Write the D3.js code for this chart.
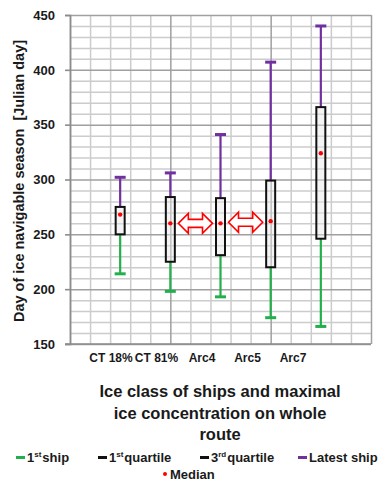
<!DOCTYPE html>
<html><head><meta charset="utf-8">
<script src="https://cdn.jsdelivr.net/npm/d3@7/dist/d3.min.js"></script>
<style>
html,body{margin:0;padding:0;background:#fff;}
svg{display:block;font-family:"Liberation Sans",Arial,sans-serif;}
</style></head>
<body>
<svg id="c" width="382" height="484"></svg>
<script>
const categories = ["CT 18%", "CT 81%", "Arc4", "Arc5", "Arc7"];
const firstShip  = [214, 198, 193, 174, 166];
const quartile1  = [250, 225, 231, 220, 246];
const median     = [268, 260, 260, 262, 324];
const quartile3  = [275, 284, 283, 299, 366];
const latestShip = [302, 306, 341, 407, 440];
const yTicks = [150, 200, 250, 300, 350, 400, 450];
const arrowPairs = [[1, 2], [2, 3]];
const legendItems = [
  {label: "1", sup: "st", rest: "ship", color: "#22b04c", type: "line"},
  {label: "1", sup: "st", rest: "quartile", color: "#111", type: "line"},
  {label: "3", sup: "rd", rest: "quartile", color: "#111", type: "line"},
  {label: "Latest ship", sup: "", rest: "", color: "#7030a0", type: "line"},
  {label: "Median", sup: "", rest: "", color: "#ff0000", type: "dot"}
];

const svg = d3.select("#c");
const x = d3.scaleLinear().domain([0, 6]).range([70, 371]);
const y = d3.scaleLinear().domain([150, 450]).range([344, 15]);
const xLab = d3.scalePoint().domain(categories).range([111, 293]);

const GREEN = "#22b04c", PURPLE = "#7030a0", RED = "#ff0000";
const W = x(6) - x(0), H = y(150) - y(450);

// horizontal gridlines via axis generator
const hMinor = d3.range(150, 451, 10).filter(v => v % 50 !== 0);
const vAll = d3.range(0, 16).map(i => +(i * 0.4).toFixed(1));
const vMinor = vAll.filter((v, i) => i % 5 !== 0);
const vMajor = vAll.filter((v, i) => i % 5 === 0);

function grid(axis, cls, color, width) {
  const gg = svg.append("g").attr("class", cls).call(axis);
  gg.select(".domain").remove();
  gg.selectAll(".tick line").attr("stroke", color).attr("stroke-width", width);
  gg.selectAll(".tick text").remove();
  return gg;
}
grid(d3.axisLeft(y).tickValues(hMinor).tickSize(-W).tickFormat(""), "hminor", "#cccccc", 1.5)
  .attr("transform", `translate(${x(0)},0)`);
grid(d3.axisBottom(x).tickValues(vMinor).tickSize(-H).tickFormat(""), "vminor", "#cccccc", 1.5)
  .attr("transform", `translate(0,${y(150)})`);
grid(d3.axisLeft(y).tickValues(yTicks).tickSize(-W).tickFormat(""), "hmajor", "#a0a0a0", 1.5)
  .attr("transform", `translate(${x(0)},0)`);
grid(d3.axisBottom(x).tickValues(vMajor).tickSize(-H).tickFormat(""), "vmajor", "#a0a0a0", 1.5)
  .attr("transform", `translate(0,${y(150)})`);

// axis
const yAxis = d3.axisLeft(y).tickValues(yTicks).tickSize(5).tickPadding(10);
const ya = svg.append("g").attr("transform", `translate(${x(0)},0)`).call(yAxis);
ya.select(".domain").attr("stroke", "#8c8c8c").attr("stroke-width", 1.6);
ya.selectAll(".tick line").attr("stroke", "#8c8c8c").attr("stroke-width", 1.6);
ya.selectAll("text").attr("font-size", 13).attr("font-weight", "bold").attr("fill", "#1a1a1a")
  .attr("font-family", "Liberation Sans, Arial, sans-serif");
svg.append("line").attr("x1", x(0) - 5).attr("x2", x(6)).attr("y1", y(150)).attr("y2", y(150))
  .attr("stroke", "#8c8c8c").attr("stroke-width", 1.6);

// boxes
const capW = 11;
categories.forEach((c, i) => {
  const cx = x(i + 1);
  svg.append("line").attr("x1", cx).attr("x2", cx).attr("y1", y(quartile3[i])).attr("y2", y(latestShip[i]))
    .attr("stroke", PURPLE).attr("stroke-width", 2.2);
  svg.append("line").attr("x1", cx - capW / 2).attr("x2", cx + capW / 2).attr("y1", y(latestShip[i])).attr("y2", y(latestShip[i]))
    .attr("stroke", PURPLE).attr("stroke-width", 3);
  svg.append("line").attr("x1", cx).attr("x2", cx).attr("y1", y(quartile1[i])).attr("y2", y(firstShip[i]))
    .attr("stroke", GREEN).attr("stroke-width", 2.2);
  svg.append("line").attr("x1", cx - capW / 2).attr("x2", cx + capW / 2).attr("y1", y(firstShip[i])).attr("y2", y(firstShip[i]))
    .attr("stroke", GREEN).attr("stroke-width", 3);
  svg.append("rect").attr("x", cx - 4.5).attr("width", 9)
    .attr("y", y(quartile3[i])).attr("height", y(quartile1[i]) - y(quartile3[i]))
    .attr("fill", "rgba(230,230,230,0.45)").attr("stroke", "#111").attr("stroke-width", 2);
  svg.append("circle").attr("cx", cx).attr("cy", y(median[i])).attr("r", 2.2).attr("fill", RED);
});

// double arrows
arrowPairs.forEach(([a, b]) => {
  const x0 = x(a + 1) + 8, x1 = x(b + 1) - 8;
  const cy = y(d3.mean([median[a], median[b]]));
  const hh = 10, sh = 4, hl = 10;
  const p = [[x0, cy], [x0 + hl, cy - hh], [x0 + hl, cy - sh], [x1 - hl, cy - sh], [x1 - hl, cy - hh],
             [x1, cy], [x1 - hl, cy + hh], [x1 - hl, cy + sh], [x0 + hl, cy + sh], [x0 + hl, cy + hh]];
  svg.append("path").attr("d", d3.line()(p) + "Z").attr("fill", "#fff").attr("stroke", RED).attr("stroke-width", 1.6)
    .attr("stroke-linejoin", "miter");
});

// category labels
categories.forEach(c => {
  svg.append("text").attr("x", xLab(c)).attr("y", 362).attr("text-anchor", "middle")
    .attr("font-size", 12).attr("font-weight", "bold").attr("fill", "#1a1a1a").text(c);
});

// y title
svg.append("text").attr("transform", "translate(24,181) rotate(-90)").attr("text-anchor", "middle")
  .attr("font-size", 14.5).attr("font-weight", "bold").attr("fill", "#1a1a1a")
  .attr("xml:space", "preserve").text("Day of ice navigable season  [Julian day]");

// x title
["Ice class of ships and maximal", "ice concentration on whole", "route"].forEach((t, i) => {
  svg.append("text").attr("x", 220).attr("y", 397 + i * 21.5).attr("text-anchor", "middle")
    .attr("font-size", 16.5).attr("font-weight", "bold").attr("fill", "#1a1a1a").text(t);
});

// legend
const legPos = [[16, 462], [98, 462], [200, 462], [298, 462], [163, 479]];
legendItems.forEach((d, i) => {
  const [lx, ly] = legPos[i];
  if (d.type === "line") {
    svg.append("line").attr("x1", lx).attr("x2", lx + 9).attr("y1", ly - 4.5).attr("y2", ly - 4.5)
      .attr("stroke", d.color).attr("stroke-width", 3);
  } else {
    svg.append("circle").attr("cx", lx + 2).attr("cy", ly - 5).attr("r", 2).attr("fill", d.color);
  }
  const t = svg.append("text").attr("x", lx + (d.type === "line" ? 11 : 7)).attr("y", ly)
    .attr("font-size", 13).attr("font-weight", "bold").attr("fill", "#1a1a1a");
  t.append("tspan").text(d.label);
  if (d.sup) {
    t.append("tspan").attr("font-size", 8).attr("dy", -5).text(d.sup);
    t.append("tspan").attr("dy", 5).attr("dx", 1).text(d.rest);
  }
});
</script>
</body></html>
